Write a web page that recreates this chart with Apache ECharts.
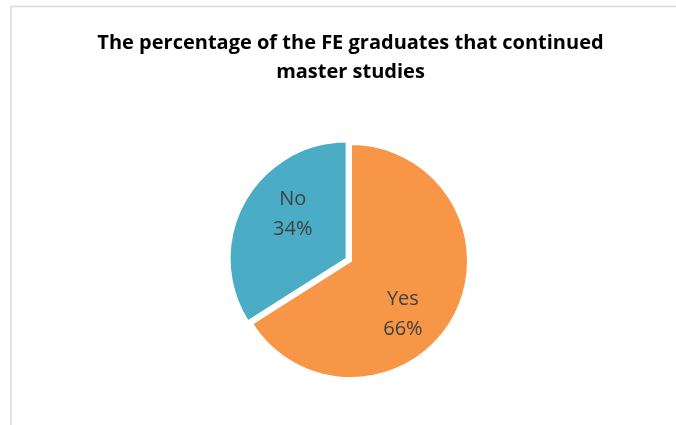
<!DOCTYPE html>
<html>
<head>
<meta charset="utf-8">
<script src="https://cdn.jsdelivr.net/npm/echarts@6/dist/echarts.min.js"></script>
<style>
html,body{margin:0;padding:0;background:#fff;}
#chart{width:676px;height:425px;}
</style>
</head>
<body>
<div id="chart"></div>
<script>
const titleLines = ['The percentage of the FE graduates that continued', 'master studies'];
const categories = ['Yes', 'No'];
const values = [66, 34];
const colors = ['#F79646', '#4BACC6'];
const labelOffsets = [[-2, 24], [0, -15]];

const chart = echarts.init(document.getElementById('chart'), null, {renderer: 'canvas'});
chart.setOption({
  backgroundColor: '#ffffff',
  animation: false,
  graphic: [{
    type: 'rect',
    shape: {x: 11, y: 6.5, width: 700, height: 450},
    style: {fill: 'none', stroke: '#d9d9d9', lineWidth: 1.5},
    silent: true
  }].concat(titleLines.map((t, i) => ({
    type: 'text',
    x: 350.5,
    y: 43 + i * 29,
    style: {
      text: t,
      align: 'center',
      verticalAlign: 'middle',
      font: 'bold 20px "Open Sans"',
      fill: '#000000'
    },
    silent: true
  }))),
  series: [{
    type: 'pie',
    center: [351, 261],
    radius: [0, 117],
    startAngle: 90,
    clockwise: true,
    selectedMode: 'single',
    selectedOffset: 5,
    label: {
      show: true,
      position: 'inside',
      formatter: '{b}\n{d}%',
      fontFamily: 'Open Sans',
      fontSize: 20,
      lineHeight: 30,
      color: '#404040'
    },
    labelLine: {show: false},
    itemStyle: {borderColor: '#ffffff', borderWidth: 2},
    emphasis: {disabled: true},
    data: categories.map((c, i) => ({
      name: c,
      value: values[i],
      selected: c === 'No',
      itemStyle: {color: colors[i]},
      label: {offset: labelOffsets[i]},
      select: {label: {offset: labelOffsets[i]}}
    }))
  }]
});
</script>
</body>
</html>
